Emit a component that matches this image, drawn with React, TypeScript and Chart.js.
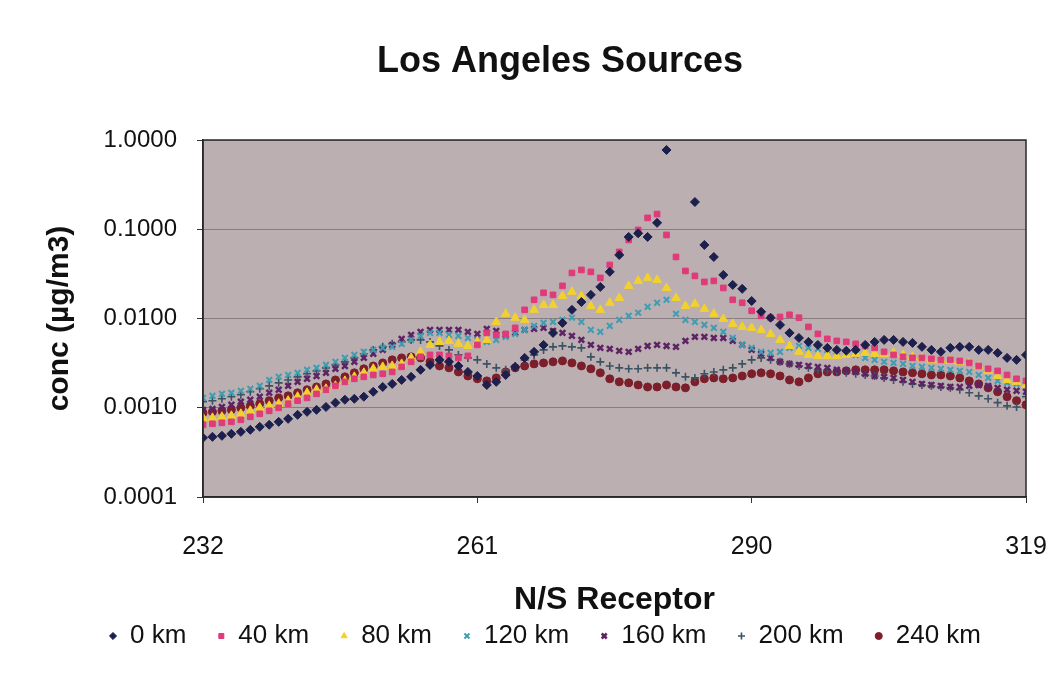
import { useEffect, useRef } from "react";
import { Chart, registerables } from "chart.js";

Chart.register(...registerables);

// N/S receptor index (x axis)
const receptors = [
  232, 233, 234, 235, 236, 237, 238, 239, 240, 241,
  242, 243, 244, 245, 246, 247, 248, 249, 250, 251,
  252, 253, 254, 255, 256, 257, 258, 259, 260, 261,
  262, 263, 264, 265, 266, 267, 268, 269, 270, 271,
  272, 273, 274, 275, 276, 277, 278, 279, 280, 281,
  282, 283, 284, 285, 286, 287, 288, 289, 290, 291,
  292, 293, 294, 295, 296, 297, 298, 299, 300, 301,
  302, 303, 304, 305, 306, 307, 308, 309, 310, 311,
  312, 313, 314, 315, 316, 317, 318, 319,
];

const xTicks = [232, 261, 290, 319];
const yTicks = [0.0001, 0.001, 0.01, 0.1, 1];

// Concentrations (µg/m3) by source distance
const km0 = [
  0.00046, 0.000472, 0.000485, 0.00051, 0.000537, 0.000566, 0.000611, 0.000644, 0.000695, 0.000751,
  0.000833, 0.0009, 0.000947, 0.00102, 0.00114, 0.00123, 0.00126, 0.00133, 0.00151, 0.00171,
  0.00185, 0.00205, 0.00222, 0.00266, 0.00302, 0.00344, 0.00327, 0.00294, 0.00252, 0.00227,
  0.0018, 0.00195, 0.00233, 0.00287, 0.00362, 0.00423, 0.00506, 0.0069, 0.00893, 0.0125,
  0.0153, 0.0184, 0.0226, 0.0333, 0.0515, 0.082, 0.09, 0.082, 0.118, 0.773,
  null, null, 0.202, 0.0667, 0.0489, 0.0308, 0.0238, 0.0215, 0.0157, 0.0119,
  0.0102, 0.00848, 0.0069, 0.00606, 0.00547, 0.00506, 0.00469, 0.00445, 0.00434, 0.00445,
  0.00506, 0.00547, 0.00576, 0.00576, 0.00547, 0.00533, 0.00481, 0.00445, 0.00423, 0.00469,
  0.00481, 0.00481, 0.00445, 0.00445, 0.00412, 0.00362, 0.00344, 0.00391,
];

const km40 = [
  0.000644, 0.000661, 0.000678, 0.000695, 0.000732, 0.000791, 0.000855, 0.000924, 0.000998, 0.00111,
  0.0012, 0.00129, 0.00143, 0.00159, 0.00176, 0.00195, 0.00211, 0.00222, 0.00233, 0.0024,
  0.00252, 0.00287, 0.00327, 0.00372, 0.00391, 0.00391, 0.00381, 0.00362, 0.00381, 0.00506,
  0.0069, 0.00655, 0.00672, 0.00785, 0.0125, 0.0162, 0.0194, 0.0184, 0.0232, 0.0324,
  0.035, 0.0333, 0.0285, 0.0398, 0.0557, 0.0759, 0.0982, 0.134, 0.148, 0.0863,
  0.0489, 0.0341, 0.03, 0.0257, 0.0264, 0.022, 0.0162, 0.015, 0.0122, 0.0107,
  0.0102, 0.0104, 0.011, 0.0102, 0.00805, 0.00672, 0.00591, 0.00561, 0.00547, 0.0052,
  0.00493, 0.00469, 0.00423, 0.00391, 0.00372, 0.00362, 0.00362, 0.00353, 0.00344, 0.00344,
  0.00335, 0.00318, 0.00294, 0.00273, 0.00259, 0.00233, 0.00211, 0.002,
];

const km80 = [
  0.000771, 0.000771, 0.000791, 0.000812, 0.000855, 0.000924, 0.000998, 0.00105, 0.00111, 0.0012,
  0.00133, 0.00147, 0.00159, 0.00163, 0.00176, 0.002, 0.00222, 0.00246, 0.00273, 0.00287,
  0.00294, 0.0031, 0.00362, 0.00423, 0.00506, 0.00547, 0.00561, 0.0052, 0.00493, 0.00547,
  0.00576, 0.00916, 0.0113, 0.0102, 0.00965, 0.0125, 0.0142, 0.0142, 0.0179, 0.0199,
  0.0179, 0.0138, 0.0125, 0.015, 0.017, 0.0232, 0.0264, 0.0285, 0.0271, 0.022,
  0.017, 0.0138, 0.0146, 0.0128, 0.0113, 0.0099, 0.0087, 0.00805, 0.00785, 0.00745,
  0.00672, 0.00576, 0.00493, 0.00423, 0.00391, 0.00381, 0.00381, 0.00381, 0.00391, 0.00402,
  0.00412, 0.00402, 0.00402, 0.00412, 0.00391, 0.00372, 0.00362, 0.00344, 0.00344, 0.00335,
  0.00327, 0.00318, 0.00294, 0.00259, 0.00227, 0.00205, 0.00195, 0.0018,
];

const km120 = [
  0.00129, 0.00136, 0.00143, 0.00147, 0.00155, 0.00163, 0.00176, 0.00205, 0.00222, 0.00233,
  0.00246, 0.00266, 0.0028, 0.00302, 0.00327, 0.00362, 0.00391, 0.00423, 0.00445, 0.00469,
  0.00481, 0.0052, 0.00576, 0.00639, 0.0069, 0.0069, 0.00655, 0.00639, 0.00606, 0.00576,
  0.00547, 0.00576, 0.00622, 0.00672, 0.00745, 0.00826, 0.00893, 0.00916, 0.00965, 0.0102,
  0.00916, 0.00745, 0.00708, 0.00826, 0.00965, 0.0107, 0.0116, 0.0135, 0.015, 0.0162,
  0.0113, 0.00965, 0.00916, 0.00848, 0.00785, 0.00708, 0.00606, 0.00506, 0.00469, 0.00423,
  0.00412, 0.00423, 0.00469, 0.00493, 0.00469, 0.00457, 0.00445, 0.00423, 0.00412, 0.00391,
  0.00362, 0.00344, 0.00327, 0.00318, 0.0031, 0.00294, 0.00287, 0.0028, 0.00273, 0.00266,
  0.00259, 0.00252, 0.00233, 0.00216, 0.002, 0.0019, 0.00185, 0.0018,
];

const km160 = [
  0.000947, 0.000972, 0.00102, 0.00108, 0.00117, 0.00123, 0.00133, 0.00147, 0.00159, 0.00176,
  0.00195, 0.00211, 0.00227, 0.00246, 0.00273, 0.00294, 0.00327, 0.00362, 0.00402, 0.00445,
  0.00506, 0.00591, 0.00655, 0.00708, 0.00745, 0.00745, 0.00745, 0.00745, 0.00708, 0.00672,
  0.00765, 0.00726, 0.00655, 0.0069, 0.00745, 0.00765, 0.00785, 0.00726, 0.0069, 0.00639,
  0.00576, 0.00506, 0.00469, 0.00457, 0.00434, 0.00423, 0.00457, 0.00493, 0.00506, 0.00493,
  0.00481, 0.00561, 0.00622, 0.00622, 0.00606, 0.00606, 0.00561, 0.00506, 0.00445, 0.00402,
  0.00362, 0.00327, 0.0031, 0.00302, 0.00294, 0.00287, 0.0028, 0.00266, 0.00259, 0.00252,
  0.0024, 0.00227, 0.00222, 0.00216, 0.00205, 0.00195, 0.00185, 0.0018, 0.00176, 0.00171,
  0.00171, 0.00176, 0.0018, 0.00176, 0.00167, 0.00159, 0.00155, 0.00151,
];

const km200 = [
  0.00117, 0.0012, 0.00126, 0.00133, 0.0014, 0.00151, 0.00163, 0.00176, 0.0019, 0.00205,
  0.00222, 0.0024, 0.00259, 0.0028, 0.00302, 0.00327, 0.00362, 0.00402, 0.00445, 0.00481,
  0.0052, 0.00547, 0.00576, 0.00576, 0.00547, 0.00493, 0.00445, 0.00391, 0.00362, 0.00344,
  0.0031, 0.0028, 0.00266, 0.00294, 0.00344, 0.00391, 0.00445, 0.00481, 0.00493, 0.00481,
  0.00469, 0.00372, 0.00327, 0.00294, 0.0028, 0.00273, 0.00273, 0.0028, 0.0028, 0.0028,
  0.00246, 0.00222, 0.00216, 0.0024, 0.00252, 0.00266, 0.0028, 0.0031, 0.00344, 0.00362,
  0.00344, 0.00327, 0.0031, 0.00294, 0.0028, 0.00266, 0.00259, 0.00252, 0.00246, 0.0024,
  0.00233, 0.00227, 0.00216, 0.00205, 0.00195, 0.00185, 0.0018, 0.00176, 0.00171, 0.00167,
  0.00159, 0.00147, 0.00136, 0.00126, 0.00114, 0.00105, 0.00102, 0.00133,
];

const km240 = [
  0.000877, 0.0009, 0.000924, 0.000947, 0.000998, 0.00105, 0.00111, 0.0012, 0.00129, 0.00136,
  0.00147, 0.00159, 0.00171, 0.00185, 0.00205, 0.00222, 0.00246, 0.00273, 0.00294, 0.00318,
  0.00344, 0.00362, 0.00372, 0.00362, 0.00327, 0.00294, 0.0028, 0.00252, 0.00227, 0.00211,
  0.002, 0.00216, 0.00252, 0.0028, 0.00294, 0.0031, 0.00318, 0.00327, 0.00335, 0.00318,
  0.00294, 0.00273, 0.00246, 0.00211, 0.00195, 0.0019, 0.0018, 0.00171, 0.00171, 0.0018,
  0.00171, 0.00167, 0.00195, 0.00211, 0.00216, 0.00211, 0.00216, 0.00227, 0.0024, 0.00246,
  0.0024, 0.00227, 0.00205, 0.00195, 0.00216, 0.0024, 0.00252, 0.00252, 0.00259, 0.00266,
  0.00266, 0.00266, 0.00266, 0.00259, 0.00252, 0.00246, 0.0024, 0.00233, 0.00233, 0.00227,
  0.00216, 0.002, 0.00185, 0.00167, 0.00151, 0.00133, 0.0012, 0.00108,
];

const FONT = '"Liberation Sans", Arial, Helvetica, sans-serif';

const seriesDefs = [
  { label: "0 km", values: km0, color: "#1d1f4d", style: "rectRot", radius: 4.5, width: 1 },
  { label: "40 km", values: km40, color: "#e03a78", style: "rect", radius: 4, width: 1 },
  { label: "80 km", values: km80, color: "#f3d12c", style: "triangle", radius: 5, width: 1 },
  { label: "120 km", values: km120, color: "#3f9db2", style: "crossRot", radius: 4, width: 2 },
  { label: "160 km", values: km160, color: "#5e2265", style: "crossRot", radius: 4, width: 2.5 },
  { label: "200 km", values: km200, color: "#3b5263", style: "cross", radius: 4, width: 1.6 },
  { label: "240 km", values: km240, color: "#7c1f2b", style: "circle", radius: 4, width: 1 },
];

// Shaded plot area and dark frame around it
const plotFrame = {
  id: "plotFrame",
  beforeDraw(chart: any) {
    const { ctx, chartArea: a } = chart;
    ctx.save();
    ctx.fillStyle = "#bbafb2";
    ctx.fillRect(a.left, a.top, a.right - a.left, a.bottom - a.top);
    ctx.restore();
  },
  afterDraw(chart: any) {
    const { ctx, chartArea: a } = chart;
    ctx.save();
    ctx.strokeStyle = "#2a2a2a";
    ctx.lineWidth = 1.5;
    ctx.strokeRect(a.left, a.top, a.right - a.left, a.bottom - a.top);
    ctx.restore();
  },
};

export default function App() {
  const ref = useRef<HTMLCanvasElement | null>(null);

  useEffect(() => {
    if (!ref.current) return;
    const datasets = seriesDefs.map((s) => ({
      label: s.label,
      data: receptors.map((x, i) => ({ x, y: s.values[i] })),
      pointStyle: s.style,
      pointRadius: s.radius,
      pointBorderWidth: s.width,
      backgroundColor: s.color,
      borderColor: s.color,
      showLine: false,
    }));

    const chart = new Chart(ref.current, {
      type: "scatter",
      data: { datasets } as any,
      plugins: [plotFrame],
      options: {
        animation: false,
        responsive: false,
        events: [],
        layout: { padding: { left: 78, right: 19, top: 0, bottom: 30 } },
        plugins: {
          title: {
            display: true,
            text: "Los Angeles Sources",
            color: "#111",
            font: { family: FONT, size: 36, weight: "bold" },
            padding: { top: 40.4, bottom: 56.4 },
          },
          legend: {
            position: "bottom",
            align: "start",
            labels: {
              usePointStyle: true,
              boxWidth: 8,
              boxHeight: 5,
              padding: 31,
              color: "#111",
              font: { family: FONT, size: 26 },
            },
          },
          tooltip: { enabled: false },
        },
        scales: {
          x: {
            type: "linear",
            min: 232,
            max: 319,
            afterBuildTicks: (s: any) => {
              s.ticks = xTicks.map((v) => ({ value: v }));
            },
            afterFit: (s: any) => {
              s.height = 95;
              s.paddingRight = 35;
            },
            ticks: {
              color: "#111",
              font: { family: FONT, size: 25 },
              padding: 29,
              maxRotation: 0,
            },
            grid: { drawOnChartArea: false, tickLength: 6, color: "#333" },
            border: { color: "#222", width: 1.5 },
            title: {
              display: true,
              text: "N/S Receptor",
              color: "#111",
              font: { family: FONT, size: 32, weight: "bold" },
              padding: { top: 0, bottom: -27.2 },
            },
          },
          y: {
            type: "logarithmic",
            min: 0.0001,
            max: 1,
            afterBuildTicks: (s: any) => {
              s.ticks = yTicks.map((v) => ({ value: v }));
            },
            afterFit: (s: any) => {
              s.width = 125;
            },
            ticks: {
              color: "#111",
              font: { family: FONT, size: 24 },
              padding: 20,
              callback: (v: any) => Number(v).toFixed(4),
            },
            grid: { color: "rgba(85,75,80,0.5)", tickColor: "#333", tickLength: 6 },
            border: { color: "#222", width: 1.5 },
            title: {
              display: true,
              text: "conc (µg/m3)",
              color: "#111",
              font: { family: FONT, size: 30, weight: "bold" },
              padding: { top: -36, bottom: 0 },
            },
          },
        },
      } as any,
    });

    return () => chart.destroy();
  }, []);

  return (
    <div style={{ position: "fixed", left: 0, top: 0, width: 1061, height: 689, background: "#fff" }}>
      <canvas ref={ref} width={1061} height={689} style={{ display: "block" }} />
    </div>
  );
}
